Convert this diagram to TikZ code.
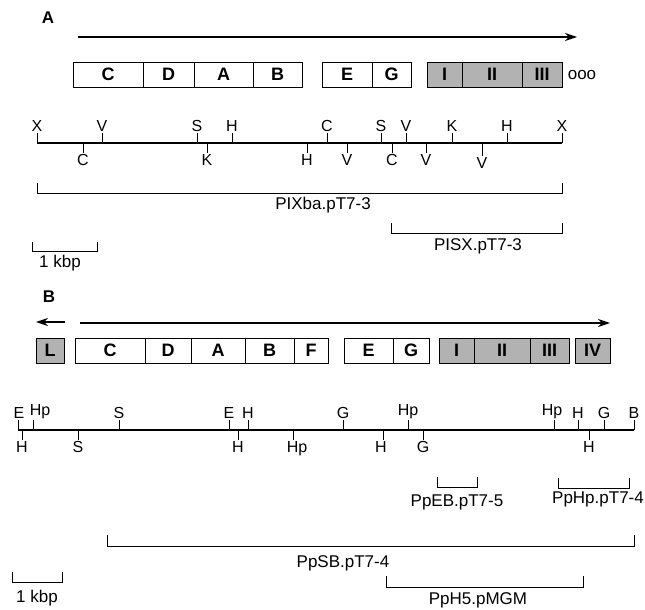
\documentclass[tikz,border=0pt]{standalone}
\usepackage{fontspec}
\setmainfont{Liberation Sans}
\usetikzlibrary{arrows.meta}

\tikzset{
  genebox/.style={draw, line width=0.9pt},
  shadebox/.style={draw, line width=0.9pt, fill=gray!60},
  genelab/.style={font=\fontsize{18}{20}\selectfont\bfseries, inner sep=0pt},
  panellab/.style={font=\fontsize{17}{19}\selectfont\bfseries, inner sep=0pt},
  sitelab/.style={font=\fontsize{16}{18}\selectfont, inner sep=1.2pt},
  clonelab/.style={font=\fontsize{17}{19}\selectfont, inner sep=0pt},
  maplen/.style={line width=1.1pt},
  sitetick/.style={line width=0.9pt},
  clone/.style={line width=0.9pt},
}

\begin{document}
\begin{tikzpicture}[x=1pt, y=-1pt, >={Stealth[length=12pt,width=8pt]}]
\useasboundingbox (0,0) rectangle (645,610);

% ===== Panel A =====
\node[panellab] (labA) at (48,18) {A};
% transcription arrow
\coordinate (aL) at (78,37);
\coordinate (aR) at (577,37);
\draw[->, line width=1.3pt] (aL) -- (aR);
% gene boxes
\foreach \l/\r/\t in {73/143/C, 143/194/D, 194/253/A, 253/302/B, 322/372/E, 372/411/G}{
  \draw[genebox] (\l,62) rectangle (\r,87);
  \node[genelab] (ga\t) at ({(\l+\r)/2},74.5) {\t};
}
\foreach \l/\r/\t in {427/462/I, 462/522/II, 522/562/III}{
  \draw[shadebox] (\l,62) rectangle (\r,87);
  \node[genelab] (ga\t) at ({(\l+\r)/2},74.5) {\t};
}
\node[clonelab] (ooo) at (582,75) {ooo};
% restriction map A
\coordinate (mapAL) at (37,143);
\coordinate (mapAR) at (562,143);
\draw[maplen] (mapAL) -- (mapAR);
\foreach \x/\t [count=\i] in {37/X, 102/V, 197/S, 232/H, 327/C, 381/S, 406/V, 452/K, 507/H, 562/X}
  \draw[sitetick] (\x,143) -- (\x,133) node[sitelab, above] (rau\i) {\t};
\foreach \x/\t [count=\i] in {83/C, 207/K, 307/H, 347/V, 392/C, 426/V}
  \draw[sitetick] (\x,143) -- (\x,153) node[sitelab, below] (rad\i) {\t};
\draw[sitetick] (482,143) -- (482,156) node[sitelab, below] (rad7) {V};
% clones A
\draw[clone] (37,183) -- (37,193) -- (562,193) -- (562,183);
\node[clonelab] (PIXba) at (323,205) {PIXba.pT7-3};
\draw[clone] (391,223) -- (391,233) -- (562,233) -- (562,223);
\node[clonelab] (PISX) at (478,246) {PISX.pT7-3};
% scale bar A
\draw[clone] (32,242) -- (32,251) -- (97,251) -- (97,242);
\node[clonelab] (kbpA) at (60,263) {1 kbp};

% ===== Panel B =====
\node[panellab] (labB) at (49,297) {B};
% transcription arrows
\coordinate (bLs) at (65,322);
\coordinate (bLe) at (36,322);
\coordinate (bRs) at (80,323);
\coordinate (bRe) at (610,323);
\draw[->, line width=1.3pt] (bLs) -- (bLe);
\draw[->, line width=1.3pt] (bRs) -- (bRe);
% gene boxes
\foreach \l/\r/\t in {75/145/C, 145/191/D, 191/245/A, 245/294/B, 294/328/F, 344/393/E, 393/429/G}{
  \draw[genebox] (\l,338) rectangle (\r,363);
  \node[genelab] (gb\t) at ({(\l+\r)/2},350.5) {\t};
}
\foreach \l/\r/\t in {36/64/L, 439/474/I, 474/530/II, 530/569/III, 575/610/IV}{
  \draw[shadebox] (\l,338) rectangle (\r,363);
  \node[genelab] (gb\t) at ({(\l+\r)/2},350.5) {\t};
}
% restriction map B
\coordinate (mapBL) at (18,430);
\coordinate (mapBR) at (634,430);
\draw[maplen] (mapBL) -- (mapBR);
\foreach \x/\lx/\t [count=\i] in {18/19/E, 33/40/Hp, 119/119/S, 229/229/E, 248/248/H, 343/343/G, 408/408/Hp, 554/552/Hp, 578/578/H, 604/604/G, 634/634/B}{
  \draw[sitetick] (\x,430) -- (\x,420);
  \node[sitelab, above] (rbu\i) at (\lx,420) {\t};
}
\foreach \x/\lx/\t [count=\i] in {22/22/H, 78/78/S, 238/238/H, 293/297/Hp, 383/381/H, 423/423/G, 589/589/H}{
  \draw[sitetick] (\x,430) -- (\x,440);
  \node[sitelab, below] (rbd\i) at (\lx,440) {\t};
}
% clones B
\draw[clone] (437,477) -- (437,487) -- (477,487) -- (477,477);
\node[clonelab] (PpEB) at (457,502) {PpEB.pT7-5};
\draw[clone] (558,478) -- (558,488) -- (629,488) -- (629,478);
\node[clonelab] (PpHp) at (598,499) {PpHp.pT7-4};
\draw[clone] (107,535) -- (107,546) -- (634,546) -- (634,535);
\node[clonelab] (PpSB) at (343,563) {PpSB.pT7-4};
\draw[clone] (386,576) -- (386,587) -- (583,587) -- (583,576);
\node[clonelab] (PpH5) at (478,600) {PpH5.pMGM};
% scale bar B
\draw[clone] (12,572) -- (12,582) -- (62,582) -- (62,572);
\node[clonelab] (kbpB) at (37,598) {1 kbp};
\end{tikzpicture}
\end{document}
